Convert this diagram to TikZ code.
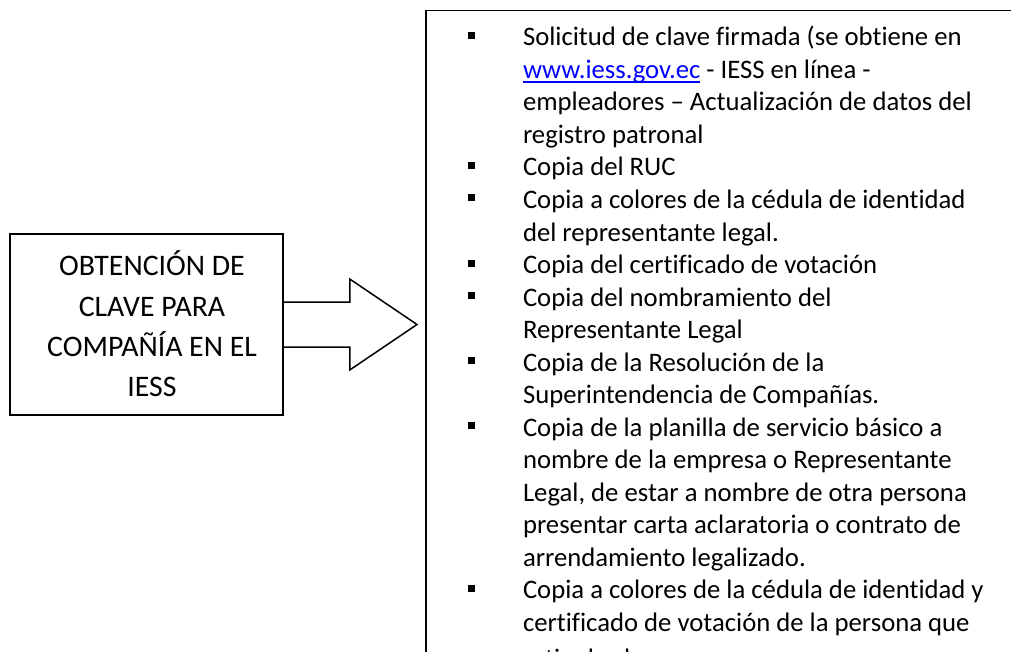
\documentclass[tikz,border=0pt]{standalone}
\usepackage{fontspec}
\setmainfont[Ligatures=NoCommon,RawFeature={-liga;-dlig;-clig}]{Carlito}
\definecolor{linkblue}{RGB}{0,0,255}
\begin{document}
\begin{tikzpicture}[x=1pt,y=-1pt,
  bodyfont/.style={font=\fontsize{26.7}{32.5}\selectfont},
  boxfont/.style={font=\fontsize{29.8}{40}\selectfont},
  txt/.style={bodyfont, inner sep=0pt, outer sep=0pt, anchor=base west},
  ctxt/.style={boxfont, inner sep=0pt, outer sep=0pt, anchor=base},
  bul/.style={fill=black, minimum size=7pt, inner sep=0pt, outer sep=0pt, anchor=center},
  frame/.style={draw=black, line width=1.5pt}]
\useasboundingbox (0,0) rectangle (1011,652);
\clip (0,0) rectangle (1011,652);
\fill[white] (0,0) rectangle (1011,652);

% left box
\node[frame, minimum width=273pt, minimum height=181pt, inner sep=0pt] (src) at (146.5,324.5) {};
\node[ctxt] (s1) at (152,276) {OBTENCIÓN DE};
\node[ctxt] (s2) at (152,316) {CLAVE PARA};
\node[ctxt] (s3) at (152,356) {COMPAÑÍA EN EL};
\node[ctxt] (s4) at (152,396) {IESS};

% right box
\node[frame, minimum width=620pt, minimum height=700pt, inner sep=0pt, anchor=north west] (req) at (425,10) {};

% block arrow
\path (req.west |- src.east) ++(-8,0) coordinate (tip);
\draw[frame, line join=miter] ([yshift=22.5pt]src.east) -- ++(66,0) -- ++(0,-23) -- (tip)
  -- ([xshift=66pt,yshift=-45.5pt]src.east) -- ++(0,-23) -- ([yshift=-22.5pt]src.east);

% list
\def\bx{471.5}
\def\tx{523}
\node[bul] (b1) at (\bx,35.5) {};
\node[txt] (l1) at (\tx,46) {Solicitud de clave firmada (se obtiene en};
\node[txt, text=linkblue] (lk) at (\tx,78.5) {www.iess.gov.ec};
\draw[linkblue, line width=1.3pt] ([yshift=-3.5pt]lk.base west) -- ([yshift=-3.5pt]lk.base east);
\node[txt] (l2) at (lk.base east) {\ - IESS en línea -};
\node[txt] (l3) at (\tx,111) {empleadores – Actualización de datos del};
\node[txt] (l4) at (\tx,143.5) {registro patronal};
\node[bul] (b5) at (\bx,165.5) {};
\node[txt] (l5) at (\tx,176) {Copia del RUC};
\node[bul] (b6) at (\bx,198) {};
\node[txt] (l6) at (\tx,208.5) {Copia a colores de la cédula de identidad};
\node[txt] (l7) at (\tx,241) {del representante legal.};
\node[bul] (b8) at (\bx,263) {};
\node[txt] (l8) at (\tx,273.5) {Copia del certificado de votación};
\node[bul] (b9) at (\bx,295.5) {};
\node[txt] (l9) at (\tx,306) {Copia del nombramiento del};
\node[txt] (l10) at (\tx,338.5) {Representante Legal};
\node[bul] (b11) at (\bx,360.5) {};
\node[txt] (l11) at (\tx,371) {Copia de la Resolución de la};
\node[txt] (l12) at (\tx,403.5) {Superintendencia de Compañías.};
\node[bul] (b13) at (\bx,425.5) {};
\node[txt] (l13) at (\tx,436) {Copia de la planilla de servicio básico a};
\node[txt] (l14) at (\tx,468.5) {nombre de la empresa o Representante};
\node[txt] (l15) at (\tx,501) {Legal, de estar a nombre de otra persona};
\node[txt] (l16) at (\tx,533.5) {presentar carta aclaratoria o contrato de};
\node[txt] (l17) at (\tx,566) {arrendamiento legalizado.};
\node[bul] (b18) at (\bx,588) {};
\node[txt] (l18) at (\tx,598.5) {Copia a colores de la cédula de identidad y};
\node[txt] (l19) at (\tx,631) {certificado de votación de la persona que};
\node[txt] (l20) at (\tx,667) {retira la clave};
\end{tikzpicture}
\end{document}
